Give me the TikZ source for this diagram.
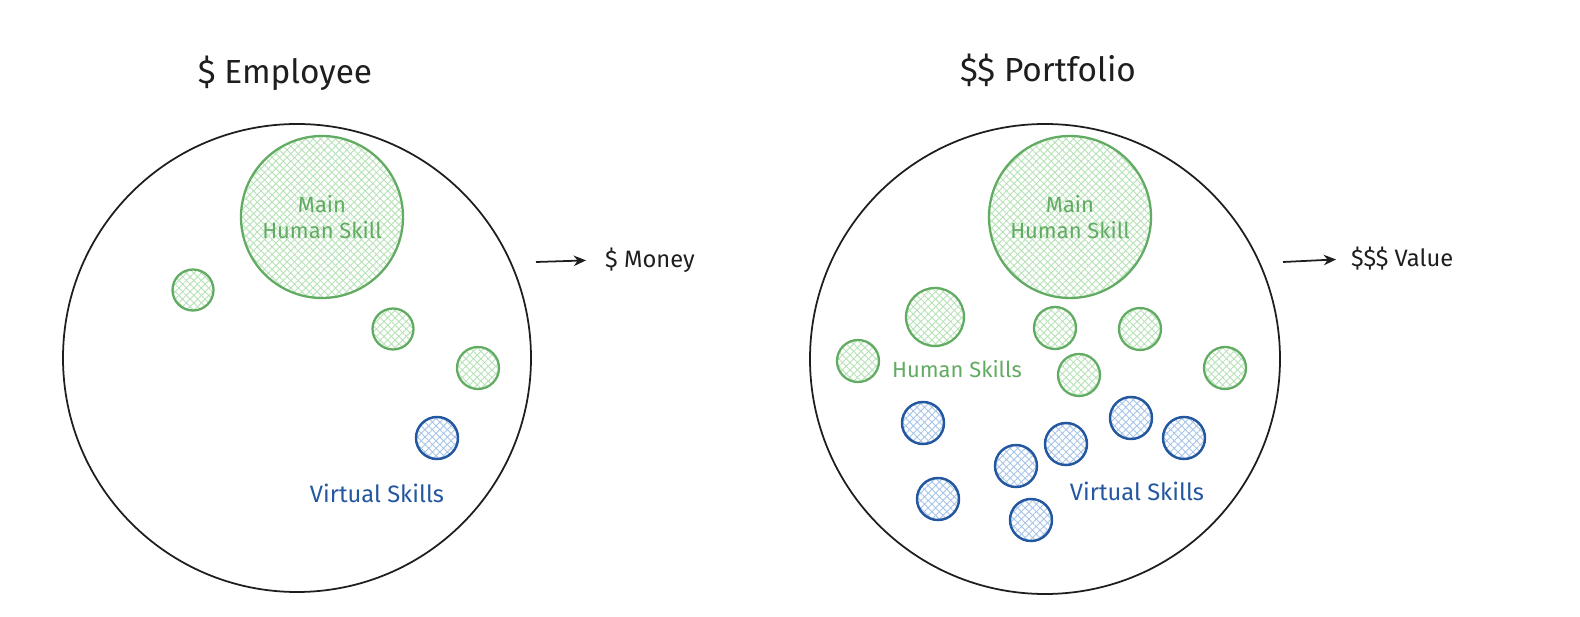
\documentclass[tikz,border=0pt]{standalone}
\usepackage{fontspec}
\setmainfont{Fira Sans}
\usepackage{tikz-network}
\usepackage[table]{xcolor}
\usetikzlibrary{patterns.meta,arrows.meta}

\definecolor{ink}{HTML}{1E1E1E}
\definecolor{hgreen}{HTML}{62AB62}
\definecolor{hgreenfill}{HTML}{B6E2B6}
\definecolor{vblue}{HTML}{2357A0}
\definecolor{vbluefill}{HTML}{A6C4E8}

\tikzset{
  human/.style={draw=hgreen, line width=1.3pt,
    preaction={pattern={Lines[angle=-45,distance=3pt,line width=0.5pt]}, pattern color=hgreenfill},
    pattern={Lines[angle=45,distance=3pt,line width=0.5pt]}, pattern color=hgreenfill},
  virtual/.style={draw=vblue, line width=1.4pt,
    preaction={pattern={Lines[angle=-45,distance=3pt,line width=0.5pt]}, pattern color=vbluefill},
    pattern={Lines[angle=45,distance=3pt,line width=0.5pt]}, pattern color=vbluefill},
  whole/.style={draw=ink, line width=1pt},
  title/.style={font=\fontsize{19}{22}\selectfont, text=ink},
  outcome/.style={font=\fontsize{13.5}{16}\selectfont, text=ink},
  humantext/.style={font=\fontsize{12.5}{15}\selectfont, text=hgreen, align=center},
  virtualtext/.style={font=\fontsize{13.5}{16}\selectfont, text=vblue},
  flow/.style={draw=ink, line width=1pt, -{Stealth[length=7pt,width=6pt]}},
}

\begin{document}
\begin{tikzpicture}
 \useasboundingbox (0,0) rectangle (31.6,12.32);
 % employee
 \Vertex[x=5.94, y=5.16, size=9.36, color=white, style={whole}]{emp}
 \Vertex[x=6.44, y=7.98, size=3.24, color=white, style={human}]{empmain}
 \Vertex[x=3.86, y=6.52, size=0.82, color=white, style={human}]{emph1}
 \Vertex[x=7.86, y=5.74, size=0.82, color=white, style={human}]{emph2}
 \Vertex[x=9.56, y=4.96, size=0.84, color=white, style={human}]{emph3}
 \Vertex[x=8.74, y=3.56, size=0.84, color=white, style={virtual}]{empv1}

 \node[title] (emptitle) at (5.70, 10.86) {\$ Employee};
 \node[humantext] (empmaintext) at (6.44, 7.98) {Main\\Human Skill};
 \node[virtualtext] (empvtext) at (7.54, 2.46) {Virtual Skills};
 \node[outcome, anchor=west] (money) at (11.98, 7.12) {\$ Money};
 \coordinate (empout) at (10.72, 7.08);
 \draw[flow, shorten >=0.26cm] (empout) -- (money.west);

 % portfolio
 \Vertex[x=20.90, y=5.14, size=9.40, color=white, style={whole}]{port}
 \Vertex[x=21.40, y=7.98, size=3.24, color=white, style={human}]{portmain}
 \Vertex[x=18.70, y=5.98, size=1.16, color=white, style={human}]{porth1}
 \Vertex[x=17.16, y=5.10, size=0.84, color=white, style={human}]{porth2}
 \Vertex[x=21.10, y=5.76, size=0.84, color=white, style={human}]{porth3}
 \Vertex[x=22.80, y=5.74, size=0.84, color=white, style={human}]{porth4}
 \Vertex[x=21.58, y=4.82, size=0.84, color=white, style={human}]{porth5}
 \Vertex[x=24.50, y=4.96, size=0.84, color=white, style={human}]{porth6}
 \Vertex[x=18.46, y=3.86, size=0.84, color=white, style={virtual}]{portv1}
 \Vertex[x=18.76, y=2.34, size=0.84, color=white, style={virtual}]{portv2}
 \Vertex[x=20.32, y=3.00, size=0.84, color=white, style={virtual}]{portv3}
 \Vertex[x=20.62, y=1.92, size=0.84, color=white, style={virtual}]{portv4}
 \Vertex[x=21.32, y=3.44, size=0.84, color=white, style={virtual}]{portv5}
 \Vertex[x=22.62, y=3.96, size=0.84, color=white, style={virtual}]{portv6}
 \Vertex[x=23.68, y=3.56, size=0.84, color=white, style={virtual}]{portv7}

 \node[title] (porttitle) at (20.96, 10.92) {\$\$ Portfolio};
 \node[humantext] (portmaintext) at (21.40, 7.98) {Main\\Human Skill};
 \node[humantext] (porthtext) at (19.14, 4.94) {Human Skills};
 \node[virtualtext] (portvtext) at (22.74, 2.50) {Virtual Skills};
 \node[outcome, anchor=west] (value) at (26.90, 7.14) {\$\$\$ Value};
 \coordinate (portout) at (25.66, 7.08);
 \draw[flow, shorten >=0.18cm] (portout) -- (value.west);
\end{tikzpicture}
\end{document}
